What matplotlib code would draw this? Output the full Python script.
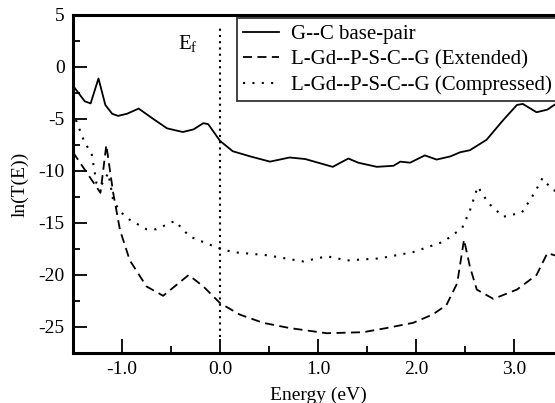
import numpy as np
import matplotlib
matplotlib.use('Agg')
import matplotlib.pyplot as plt
from matplotlib.ticker import MultipleLocator, FormatStrFormatter

plt.rcParams['font.family'] = ['Liberation Serif', 'DejaVu Serif']
plt.rcParams['axes.unicode_minus'] = False

# G--C base-pair
gc_e = [-1.5, -1.38, -1.32, -1.24, -1.17, -1.10, -1.04, -0.95, -0.83, -0.68, -0.54,
        -0.38, -0.27, -0.17, -0.12, 0.0, 0.13, 0.31, 0.51, 0.71, 0.87, 1.15, 1.31,
        1.41, 1.6, 1.77, 1.84, 1.94, 2.09, 2.21, 2.35, 2.45, 2.55, 2.72, 2.89, 3.03,
        3.09, 3.23, 3.34, 3.45]
gc_t = [-1.8, -3.3, -3.5, -1.1, -3.65, -4.5, -4.7, -4.5, -4.0, -5.0, -5.9,
        -6.25, -6.0, -5.4, -5.5, -7.1, -8.1, -8.6, -9.1, -8.7, -8.85, -9.6, -8.8,
        -9.2, -9.6, -9.5, -9.1, -9.2, -8.5, -8.9, -8.6, -8.2, -8.0, -7.0, -5.1, -3.65,
        -3.55, -4.35, -4.1, -3.4]

# L-Gd--P-S-C--G (Extended)
ext_e = [-1.5, -1.22, -1.16, -1.09, -1.02, -0.92, -0.75, -0.58, -0.32, -0.17,
         0.0, 0.2, 0.44, 0.71, 1.09, 1.46, 1.70, 1.97, 2.17, 2.31, 2.42, 2.49,
         2.55, 2.62, 2.79, 3.03, 3.23, 3.34, 3.45]
ext_t = [-8.2, -12.1, -7.5, -12.1, -15.7, -18.6, -21.1, -22.0, -20.0, -21.1,
         -22.7, -23.8, -24.6, -25.1, -25.6, -25.5, -25.1, -24.6, -23.8, -22.9, -20.8, -16.6,
         -19.2, -21.4, -22.3, -21.4, -20.0, -17.9, -18.2]

# L-Gd--P-S-C--G (Compressed)
cmp_e = [-1.47, -1.38, -1.31, -1.26, -1.22, -1.14, -1.09, -1.02, -0.92, -0.75,
         -0.65, -0.46, -0.31, -0.02, 0.13, 0.48, 0.85, 1.09, 1.30, 1.63, 1.97,
         2.28, 2.47, 2.55, 2.63, 2.74, 2.89, 3.08, 3.21, 3.29, 3.39, 3.45]
cmp_t = [-5.1, -7.3, -8.3, -11.2, -11.5, -10.2, -12.8, -13.9, -14.7, -15.6,
         -15.6, -14.8, -16.3, -17.4, -17.8, -18.1, -18.7, -18.2, -18.6, -18.4, -17.8,
         -16.8, -15.5, -13.8, -11.5, -13.1, -14.4, -14.0, -12.1, -10.7, -11.8, -12.0]

fig = plt.figure(figsize=(5.55, 4.03), dpi=100)
# axes runs past the right edge of the figure (cropped like the original)
ax = fig.add_axes([73 / 555, 50 / 403, 490 / 555, 338 / 403])

ax.plot(gc_e, gc_t, 'k-', lw=1.3, label='G--C base-pair')
ax.plot(ext_e, ext_t, 'k--', lw=1.3, dashes=(5, 3), label='L-Gd--P-S-C--G (Extended)')
ax.plot(cmp_e, cmp_t, 'k:', lw=1.5, dashes=(1, 3.5), label='L-Gd--P-S-C--G (Compressed)')
ax.plot([0, 0], [-26, 4], 'k:', lw=1.5, dashes=(1, 2))
ax.text(-0.33, 2.2, r'E$_\mathregular{f}$', fontsize=15, ha='center', va='center')

ax.set_xlim(-1.5, 3.5)
ax.set_ylim(-27.5, 5)
ax.xaxis.set_major_locator(MultipleLocator(1.0))
ax.xaxis.set_minor_locator(MultipleLocator(0.5))
ax.yaxis.set_major_locator(MultipleLocator(5))
ax.yaxis.set_minor_locator(MultipleLocator(2.5))
ax.xaxis.set_major_formatter(FormatStrFormatter('%.1f'))
ax.tick_params(which='both', direction='in', top=False, right=False, labelsize=14, width=1.3)
ax.tick_params(which='major', length=10, pad=6)
ax.tick_params(which='minor', length=5)
for s in ax.spines.values():
    s.set_linewidth(2.2)

ax.set_xlabel('Energy (eV)', fontsize=14, labelpad=6)
ax.set_ylabel('ln(T(E))', fontsize=14, labelpad=7)

leg = ax.legend(loc='upper left', bbox_to_anchor=(0.335, 0.99), borderaxespad=0,
                fontsize=15, fancybox=False, handlelength=1.7, handletextpad=0.6,
                labelspacing=0.28, borderpad=0.3)
leg.get_frame().set_edgecolor('black')
leg.get_frame().set_linewidth(1.3)

fig.savefig('out.png', dpi=100)
